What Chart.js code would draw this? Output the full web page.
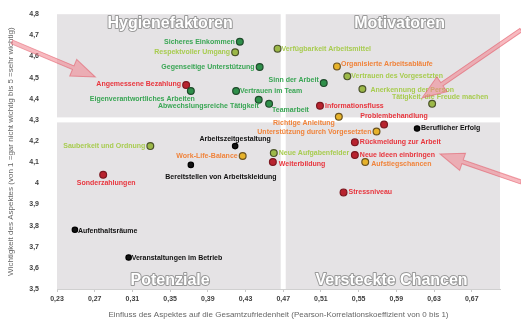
<!DOCTYPE html>
<html>
<head>
<meta charset="utf-8">
<script src="https://cdn.jsdelivr.net/npm/chart.js@4/dist/chart.umd.min.js"></script>
<style>
  html, body { margin: 0; padding: 0; background: #ffffff; }
  #wrap { width: 521px; height: 320px; }
</style>
</head>
<body>
<div id="wrap"><canvas id="chart" width="521" height="320"></canvas></div>
<script>
// Aspects of the job, their influence on overall satisfaction (x) and their importance (y)
const aspects = [
  'Sicheres Einkommen', 'Respektvoller Umgang', 'Gegenseitige Unterstützung', 'Angemessene Bezahlung',
  'Eigenverantwortliches Arbeiten', 'Vertrauen im Team', 'Abwechslungsreiche Tätigkeit', 'Teamarbeit',
  'Sinn der Arbeit', 'Verfügbarkeit Arbeitsmittel', 'Organisierte Arbeitsabläufe', 'Vertrauen des Vorgesetzten',
  'Anerkennung der Person', 'Tätigkeit, die Freude machen', 'Informationsfluss', 'Richtige Anleitung',
  'Problembehandlung', 'Beruflicher Erfolg', 'Unterstützung durch Vorgesetzten', 'Rückmeldung zur Arbeit',
  'Neue Ideen einbringen', 'Aufstiegschancen', 'Neue Aufgabenfelder', 'Weiterbildung',
  'Stressniveau', 'Sauberkeit und Ordnung', 'Sonderzahlungen', 'Arbeitszeitgestaltung',
  'Work-Life-Balance', 'Bereitstellen von Arbeitskleidung', 'Aufenthaltsräume', 'Veranstaltungen im Betrieb'
];
const influence = [
  0.424, 0.419, 0.445, 0.367,
  0.372, 0.420, 0.444, 0.455,
  0.513, 0.464, 0.527, 0.538,
  0.554, 0.628, 0.509, 0.529,
  0.577, 0.612, 0.569, 0.546,
  0.546, 0.557, 0.460, 0.459,
  0.534, 0.329, 0.279, 0.419,
  0.427, 0.372, 0.249, 0.306
];
const importance = [
  4.67, 4.62, 4.55, 4.465,
  4.437, 4.437, 4.395, 4.376,
  4.474, 4.637, 4.553, 4.506,
  4.446, 4.376, 4.367, 4.315,
  4.278, 4.259, 4.245, 4.194,
  4.134, 4.101, 4.143, 4.101,
  3.957, 4.176, 4.04, 4.176,
  4.129, 4.087, 3.78, 3.649
];
// rating class of each aspect
const rating = [
  'green', 'light', 'green', 'red',
  'green', 'green', 'green', 'green',
  'green', 'light', 'orange', 'light',
  'light', 'light', 'red', 'orange',
  'red', 'black', 'orange', 'red',
  'red', 'orange', 'light', 'red',
  'red', 'light', 'red', 'black',
  'orange', 'black', 'black', 'black'
];
const xTicks = [0.23, 0.27, 0.31, 0.35, 0.39, 0.43, 0.47, 0.51, 0.55, 0.59, 0.63, 0.67];
const yTicks = [3.5, 3.6, 3.7, 3.8, 3.9, 4.0, 4.1, 4.2, 4.3, 4.4, 4.5, 4.6, 4.7, 4.8];
const quadrantNames = ['Hygienefaktoren', 'Motivatoren', 'Potenziale', 'Versteckte Chancen'];
const splitX = 0.47;
const splitY = 4.3;

// label placement next to each marker: [textAlign, dx, dy]
const labelPlacement = [
  ['right', -5, 0], ['right', -5, 0], ['right', -5, 0], ['right', -5, -1],
  ['right', 4, 8], ['left', 4, 0], ['right', 0, 6], ['left', 3, 6],
  ['right', -5, -3], ['left', 4, 0], ['left', 4, -2], ['left', 4, 0],
  ['left', 8, 1], ['center', 8, -7], ['left', 5, 0], ['right', -4, 6],
  ['center', 10, -8], ['left', 4, 0], ['right', -5, 1], ['left', 5, 0],
  ['left', 5, 0], ['left', 6, 2], ['left', 5, 0], ['left', 6, 2],
  ['left', 5, 0], ['right', -5, 0], ['center', 3, 8], ['center', 0, -7],
  ['right', -5, 0], ['center', 30, 12], ['left', 3, 1], ['left', 3, 1]
];

const palette = {
  green:  { fill: '#2f8f4a', border: '#1f4a2b', text: '#3aa655' },
  light:  { fill: '#9cb848', border: '#4a522a', text: '#a8cc50' },
  orange: { fill: '#e6b22a', border: '#6b5320', text: '#f0843c' },
  red:    { fill: '#b8232f', border: '#7b1820', text: '#e8363e' },
  black:  { fill: '#111111', border: '#000000', text: '#111111' }
};

const LABEL_FONT = 'bold 7px "Liberation Sans", Arial, sans-serif';
const fmt = v => {
  const r = Math.round(v * 100) / 100;
  return Number.isInteger(r) ? String(r) : String(r).replace('.', ',');
};

// gray quadrant panels with white gaps
const quadrantPanels = {
  id: 'quadrantPanels',
  beforeDraw(chart) {
    const { ctx, chartArea: a, scales: { x, y } } = chart;
    ctx.save();
    ctx.fillStyle = '#ffffff';
    ctx.fillRect(0, 0, chart.width, chart.height);
    const sx = x.getPixelForValue(splitX);
    const sy = y.getPixelForValue(splitY);
    const g = 2.5;
    ctx.fillStyle = '#e5e3e5';
    ctx.fillRect(a.left, a.top, sx - g - a.left, sy - g - a.top);
    ctx.fillRect(sx + g, a.top, a.right - sx - g, sy - g - a.top);
    ctx.fillRect(a.left, sy + g, sx - g - a.left, a.bottom - sy - g);
    ctx.fillRect(sx + g, sy + g, a.right - sx - g, a.bottom - sy - g);
    ctx.restore();
  },
  beforeDatasetsDraw(chart) {
    const { ctx, chartArea: a, scales: { x } } = chart;
    const sx = x.getPixelForValue(splitX);
    ctx.save();
    ctx.font = 'bold 16px "Liberation Sans", Arial, sans-serif';
    ctx.textAlign = 'center';
    ctx.textBaseline = 'middle';
    ctx.lineJoin = 'round';
    const cl = (a.left + sx) / 2;
    const cr = (sx + a.right) / 2;
    const spots = [
      [cl, a.top + 9], [cr + 8, a.top + 9],
      [cl, a.bottom - 8], [cr, a.bottom - 8]
    ];
    quadrantNames.forEach((name, i) => {
      const [tx, ty] = spots[i];
      ctx.strokeStyle = '#9a9a9a';
      ctx.lineWidth = 2;
      ctx.strokeText(name, tx, ty);
      ctx.fillStyle = '#ffffff';
      ctx.fillText(name, tx, ty);
    });
    ctx.restore();
  }
};

function labelBox(ctx, i, px, py) {
  const [align, dx, dy] = labelPlacement[i];
  const w = ctx.measureText(aspects[i]).width;
  const tx = px + dx, ty = py + dy;
  let left = tx;
  if (align === 'right') left = tx - w;
  if (align === 'center') left = tx - w / 2;
  return { align, tx, ty, left, right: left + w };
}

// aspect names beside the markers
const pointLabels = {
  id: 'pointLabels',
  afterDatasetsDraw(chart) {
    const { ctx } = chart;
    const meta = chart.getDatasetMeta(0);
    ctx.save();
    ctx.font = LABEL_FONT;
    ctx.textBaseline = 'middle';
    meta.data.forEach((pt, i) => {
      const b = labelBox(ctx, i, pt.x, pt.y);
      ctx.textAlign = b.align;
      ctx.fillStyle = palette[rating[i]].text;
      ctx.fillText(aspects[i], b.tx, b.ty);
    });
    ctx.restore();
  }
};

function blockArrow(ctx, x0, y0, x1, y1) {
  const ang = Math.atan2(y1 - y0, x1 - x0);
  const len = Math.hypot(x1 - x0, y1 - y0);
  const headLen = 24, headW = 9, shaft = 2;
  ctx.save();
  ctx.translate(x0, y0);
  ctx.rotate(ang);
  ctx.beginPath();
  ctx.moveTo(0, -shaft);
  ctx.lineTo(len - headLen, -shaft);
  ctx.lineTo(len - headLen, -headW);
  ctx.lineTo(len, 0);
  ctx.lineTo(len - headLen, headW);
  ctx.lineTo(len - headLen, shaft);
  ctx.lineTo(0, shaft);
  ctx.closePath();
  ctx.fillStyle = 'rgba(240, 130, 140, 0.55)';
  ctx.fill();
  ctx.strokeStyle = 'rgba(225, 85, 100, 0.55)';
  ctx.lineWidth = 1;
  ctx.stroke();
  ctx.restore();
}

// pointer arrows towards highlighted aspects
const pointers = {
  id: 'pointers',
  afterDraw(chart) {
    const { ctx } = chart;
    const meta = chart.getDatasetMeta(0);
    ctx.save();
    ctx.font = LABEL_FONT;
    const iPay = aspects.indexOf('Angemessene Bezahlung');
    const pPay = meta.data[iPay];
    const bPay = labelBox(ctx, iPay, pPay.x, pPay.y);
    blockArrow(ctx, 12, 42, bPay.left - 1, pPay.y - 8);

    const iJoy = aspects.indexOf('Tätigkeit, die Freude machen');
    const pJoy = meta.data[iJoy];
    blockArrow(ctx, chart.width, 30, pJoy.x - 10, pJoy.y - 6);

    const iIdea = aspects.indexOf('Neue Ideen einbringen');
    const pIdea = meta.data[iIdea];
    const bIdea = labelBox(ctx, iIdea, pIdea.x, pIdea.y);
    blockArrow(ctx, chart.width, 182, bIdea.right + 5, pIdea.y - 1);
    ctx.restore();
  }
};

const tickFont = { family: '"Liberation Sans", Arial, sans-serif', size: 7, weight: 'bold' };
const titleFont = { family: '"Liberation Sans", Arial, sans-serif', size: 8 };

new Chart(document.getElementById('chart'), {
  type: 'scatter',
  data: {
    datasets: [{
      data: influence.map((v, i) => ({ x: v, y: importance[i] })),
      pointRadius: ctx => rating[ctx.dataIndex] === 'black' ? 2.7 : 3.4,
      pointBackgroundColor: ctx => palette[rating[ctx.dataIndex]].fill,
      pointBorderColor: ctx => palette[rating[ctx.dataIndex]].border,
      pointBorderWidth: 1.2
    }]
  },
  options: {
    responsive: false,
    animation: false,
    devicePixelRatio: 1,
    layout: { padding: { top: 10, right: 21, left: 0, bottom: 0 } },
    plugins: { legend: { display: false }, tooltip: { enabled: false } },
    scales: {
      x: {
        type: 'linear',
        min: 0.23,
        max: 0.70,
        afterBuildTicks: s => { s.ticks = xTicks.map(v => ({ value: v })); },
        afterFit: s => { s.height = 31; },
        grid: { drawOnChartArea: false, drawTicks: true, tickLength: 3, color: '#c8c8c8' },
        border: { display: true, color: '#d0d0d0' },
        ticks: { callback: v => fmt(v), font: tickFont, color: '#404040', padding: 3, maxRotation: 0, autoSkip: false },
        title: {
          display: true,
          text: 'Einfluss des Aspektes auf die Gesamtzufriedenheit (Pearson-Korrelationskoeffizient von 0 bis 1)',
          font: titleFont, color: '#666666', padding: { top: 2, bottom: 0 }
        }
      },
      y: {
        type: 'linear',
        min: 3.5,
        max: 4.8,
        afterBuildTicks: s => { s.ticks = yTicks.map(v => ({ value: v })); },
        afterFit: s => { s.width = 57; },
        grid: { display: false },
        border: { display: false },
        ticks: { callback: v => fmt(v), font: tickFont, color: '#404040', padding: 10, autoSkip: false },
        title: {
          display: true,
          text: 'Wichtigkeit des Aspektes (von 1 =gar nicht wichtig bis 5 =sehr wichtig)',
          font: titleFont, color: '#666666', padding: { top: 6, bottom: 0 }
        }
      }
    }
  },
  plugins: [quadrantPanels, pointLabels, pointers]
});
</script>
</body>
</html>
